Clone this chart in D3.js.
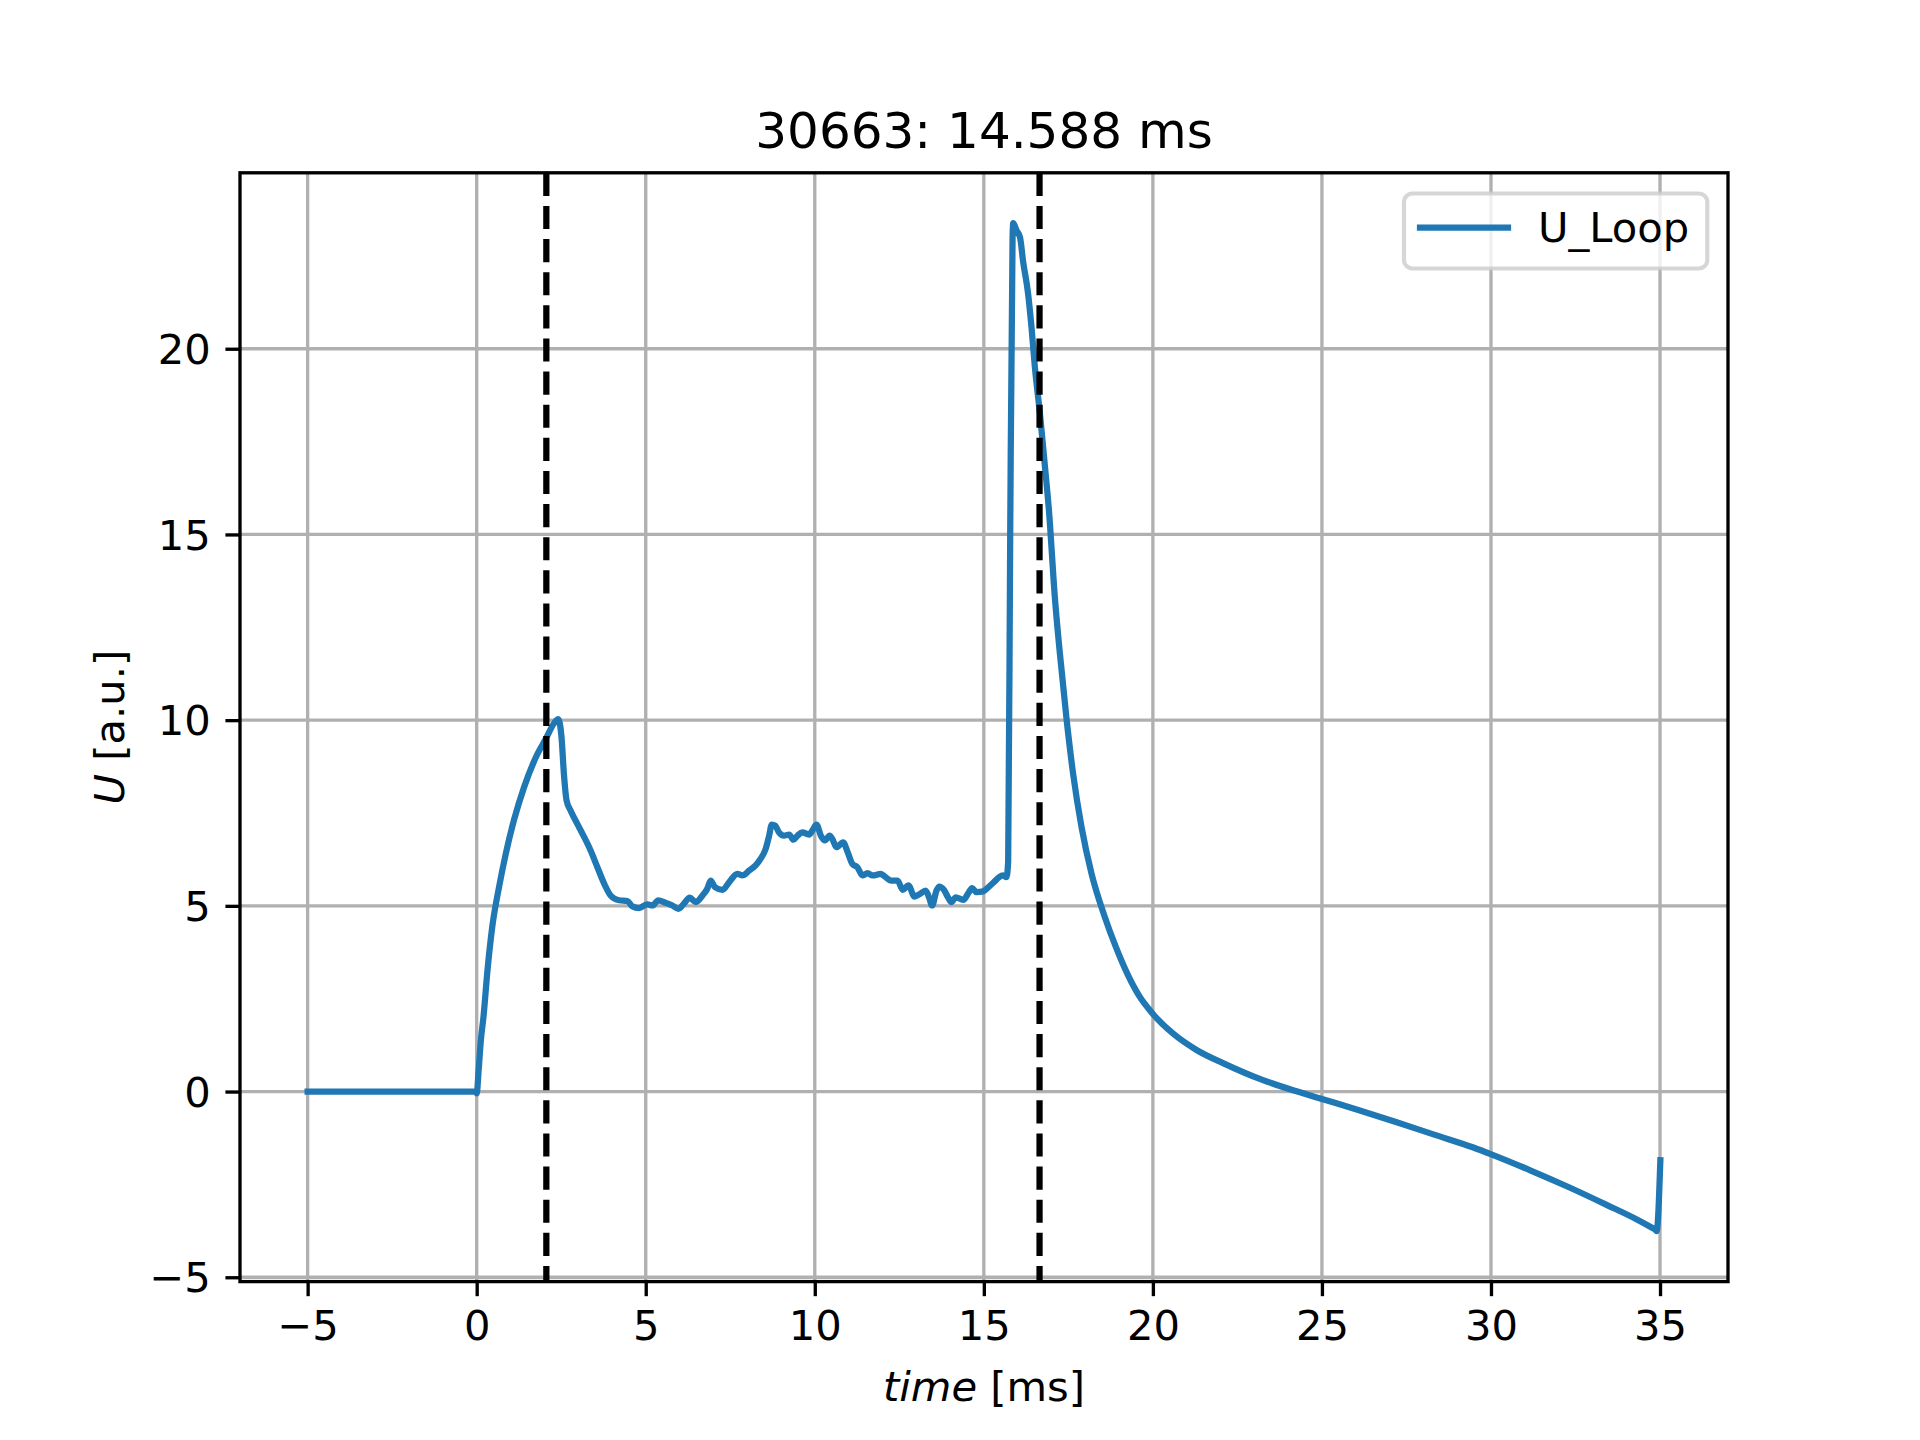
<!DOCTYPE html>
<html>
<head>
<meta charset="utf-8">
<script src="https://cdn.jsdelivr.net/npm/d3@7"></script>
<style>
  html, body { margin: 0; padding: 0; background: #ffffff; }
  svg { display: block; }
  text { font-family: "DejaVu Sans", sans-serif; fill: #000; }
</style>
</head>
<body>
<script>
// ---- data ----
const timeMs = [
  -5, -2.5, -0.05, 0.0, 0.06, 0.12, 0.2, 0.32, 0.46, 0.66, 0.86, 1.10, 1.40, 1.75, 2.04, 2.34, 2.41,
  2.51, 2.58, 2.66, 2.78, 2.98, 3.13, 3.37, 3.57, 3.77, 3.96, 4.21, 4.46, 4.6, 4.8, 5.05, 5.2, 5.37,
  5.59, 5.79, 5.97, 6.13, 6.30, 6.48, 6.68, 6.82, 6.92, 7.05, 7.27, 7.47, 7.71, 7.86, 8.06, 8.25,
  8.40, 8.55, 8.65, 8.73, 8.83, 8.94, 9.09, 9.24, 9.37, 9.49, 9.63, 9.83, 9.93, 10.05, 10.18, 10.30,
  10.44, 10.52, 10.64, 10.84, 10.97, 11.11, 11.26, 11.41, 11.56, 11.71, 11.95, 12.10, 12.25, 12.45,
  12.60, 12.77, 12.95, 13.11, 13.28, 13.38, 13.47, 13.60, 13.68, 13.82, 13.94, 14.04, 14.17, 14.39,
  14.54, 14.65, 14.78, 14.98, 15.13, 15.30, 15.45, 15.57, 15.67, 15.72, 15.78, 15.85, 15.87, 15.97,
  16.07, 16.16, 16.31, 16.41, 16.51, 16.66, 16.80, 16.93, 17.10, 17.25, 17.45, 17.64, 17.89, 18.19,
  18.57, 18.91, 19.25, 19.59, 20.0, 20.61, 21.29, 22.09, 23.22, 24.35, 25.0, 26.05, 27.19,
  28.32, 29.46, 30.01, 31.16, 32.29, 33.42, 34.33, 34.75, 34.86, 34.90, 35.01
];
const uLoop = [
  0, 0, 0, -0.05, 0.6, 1.35, 2.0, 3.27, 4.43, 5.5, 6.4, 7.3, 8.19, 9.0, 9.49, 9.98, 10.03,
  9.53, 8.55, 7.83, 7.56, 7.2, 6.94, 6.49, 6.04, 5.6, 5.28, 5.15, 5.13, 4.99, 4.94, 5.04, 5.01, 5.15,
  5.08, 5.01, 4.92, 5.06, 5.22, 5.1, 5.28, 5.46, 5.68, 5.5, 5.43, 5.64, 5.86, 5.82, 5.95, 6.09,
  6.27, 6.54, 6.89, 7.19, 7.16, 6.98, 6.89, 6.92, 6.78, 6.89, 6.98, 6.92, 7.03, 7.19, 6.89, 6.76,
  6.89, 6.8, 6.58, 6.71, 6.45, 6.13, 6.04, 5.82, 5.88, 5.82, 5.86, 5.77, 5.68, 5.68,
  5.43, 5.55, 5.25, 5.32, 5.41, 5.23, 5.01, 5.41, 5.52, 5.43, 5.23, 5.1, 5.23, 5.16,
  5.34, 5.48, 5.37, 5.39, 5.5, 5.64, 5.77, 5.82, 5.77, 6.2, 15.0, 23.0, 23.38, 23.18,
  23.0, 22.36, 21.48, 20.58, 19.50, 18.25, 16.9, 15.6, 13.31, 11.79, 10.0, 8.56, 7.12, 5.85,
  4.72, 3.88, 3.16, 2.58, 2.09, 1.55, 1.12, 0.76, 0.32, -0.02, -0.20, -0.49, -0.82,
  -1.16, -1.50, -1.69, -2.12, -2.57, -3.05, -3.45, -3.66, -3.72, -3.76, -1.85
];
const markerTimes = [2.06, 16.648];           // dashed vertical lines
const xTicks = [-5, 0, 5, 10, 15, 20, 25, 30, 35];
const yTicks = [-5, 0, 5, 10, 15, 20];
const titleText = "30663: 14.588 ms";
const seriesName = "U_Loop";

// ---- layout (matplotlib 6.4x4.8in @300dpi) ----
const W = 1920, H = 1440;
const L = 240, R = 1728, T = 172.8, B = 1281.6;
const pt = 300 / 72;
const fs = 10 * pt;

const svg = d3.select("body").append("svg").attr("width", W).attr("height", H);

const xExt = d3.extent(timeMs), yExt = d3.extent(uLoop);
const xm = (xExt[1] - xExt[0]) * 0.05, ym = (yExt[1] - yExt[0]) * 0.05;
const x = d3.scaleLinear().domain([xExt[0] - xm, xExt[1] + xm]).range([L, R]);
const y = d3.scaleLinear().domain([yExt[0] - ym, yExt[1] + ym]).range([B, T]);

const defs = svg.append("defs");
defs.append("clipPath").attr("id", "clip").append("rect")
  .attr("x", L).attr("y", T).attr("width", R - L).attr("height", B - T);

// grid
const grid = svg.append("g").attr("clip-path", "url(#clip)");
grid.selectAll("line.gx").data(xTicks).join("line")
  .attr("class", "gx")
  .attr("x1", d => x(d)).attr("x2", d => x(d)).attr("y1", T).attr("y2", B)
  .attr("stroke", "#b0b0b0").attr("stroke-width", 0.8 * pt);
grid.selectAll("line.gy").data(yTicks).join("line")
  .attr("class", "gy")
  .attr("y1", d => y(d)).attr("y2", d => y(d)).attr("x1", L).attr("x2", R)
  .attr("stroke", "#b0b0b0").attr("stroke-width", 0.8 * pt);

// data line
const pts = timeMs.map((t, i) => [t, uLoop[i]]);
const line = d3.line().x(d => x(d[0])).y(d => y(d[1])).curve(d3.curveMonotoneX);
svg.append("g").attr("clip-path", "url(#clip)").append("path")
  .datum(pts).attr("d", line)
  .attr("fill", "none").attr("stroke", "#1f77b4").attr("stroke-width", 1.5 * pt)
  .attr("stroke-linejoin", "round").attr("stroke-linecap", "square");

// dashed markers
svg.append("g").attr("clip-path", "url(#clip)").selectAll("line").data(markerTimes).join("line")
  .attr("x1", d => x(d)).attr("x2", d => x(d)).attr("y1", T).attr("y2", B)
  .attr("stroke", "#000").attr("stroke-width", 1.5 * pt)
  .attr("stroke-dasharray", `${3.7 * 1.5 * pt} ${1.6 * 1.5 * pt}`);

// axes
const fmt = d3.format("d");
const xAxis = d3.axisBottom(x).tickValues(xTicks).tickFormat(fmt)
  .tickSizeInner(3.5 * pt).tickSizeOuter(0).tickPadding(3.5 * pt);
const yAxis = d3.axisLeft(y).tickValues(yTicks).tickFormat(fmt)
  .tickSizeInner(3.5 * pt).tickSizeOuter(0).tickPadding(3.5 * pt);

const gx = svg.append("g").attr("transform", `translate(0,${B})`).call(xAxis);
const gy = svg.append("g").attr("transform", `translate(${L},0)`).call(yAxis);
[gx, gy].forEach(g => {
  g.select(".domain").remove();
  g.selectAll(".tick line").attr("stroke", "#000").attr("stroke-width", 0.8 * pt);
  g.selectAll(".tick text").attr("font-size", fs).attr("font-family", "DejaVu Sans").attr("fill", "#000");
});
gy.selectAll(".tick text").attr("dy", "0.35em");

// spines
svg.append("rect").attr("x", L).attr("y", T).attr("width", R - L).attr("height", B - T)
  .attr("fill", "none").attr("stroke", "#000").attr("stroke-width", 0.8 * pt)
  .attr("stroke-linecap", "square");

// title
svg.append("text").attr("x", (L + R) / 2).attr("y", T - 6 * pt)
  .attr("text-anchor", "middle").attr("font-size", 12 * pt).text(titleText);

// x label
const xl = svg.append("text").attr("x", (L + R) / 2).attr("y", 1401)
  .attr("text-anchor", "middle").attr("font-size", fs);
xl.append("tspan").attr("font-style", "italic").text("time");
xl.append("tspan").text(" [ms]");

// y label
const yl = svg.append("text").attr("transform", `translate(124,${(T + B) / 2}) rotate(-90)`)
  .attr("text-anchor", "middle").attr("font-size", fs);
yl.append("tspan").attr("font-style", "italic").text("U");
yl.append("tspan").text(" [a.u.]");

// legend
const lg = svg.append("g");
lg.append("rect").attr("x", 1404).attr("y", 193.5).attr("width", 303.3).attr("height", 75)
  .attr("rx", 0.2 * fs).attr("ry", 0.2 * fs)
  .attr("fill", "#ffffff").attr("fill-opacity", 0.8)
  .attr("stroke", "#cccccc").attr("stroke-opacity", 0.8).attr("stroke-width", 1.0 * pt);
lg.append("line").attr("x1", 1420).attr("x2", 1508).attr("y1", 227.5).attr("y2", 227.5)
  .attr("stroke", "#1f77b4").attr("stroke-width", 1.5 * pt).attr("stroke-linecap", "square");
lg.append("text").attr("x", 1538).attr("y", 241.5).attr("font-size", fs).text(seriesName);
</script>
</body>
</html>
